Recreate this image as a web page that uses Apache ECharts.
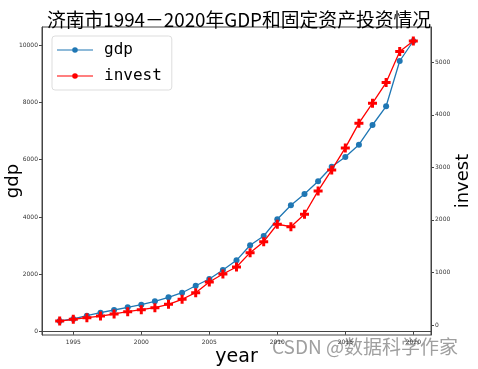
<!DOCTYPE html>
<html><head><meta charset="utf-8">
<script src="https://cdn.jsdelivr.net/npm/echarts@6/dist/echarts.min.js"></script>
<style>html,body{margin:0;padding:0;background:#fff}#c{width:478px;height:369px}</style>
</head><body><div id="c"></div>
<script>
var years = [1994,1995,1996,1997,1998,1999,2000,2001,2002,2003,2004,2005,2006,2007,2008,2009,2010,2011,2012,2013,2014,2015,2016,2017,2018,2019,2020];
var gdp = [373,443,558,663,757,851,942,1060,1200,1360,1604,1838,2152,2490,3014,3338,3920,4409,4803,5246,5755,6093,6523,7210,7862,9442,10140];
var invest = [76,109,139,171,210,253,291,330,394,490,615,819,971,1105,1377,1587,1918,1872,2109,2552,2952,3371,3842,4223,4615,5206,5406];
var xTicks = [1995,2000,2005,2010,2015,2020];
var gdpTicks = [0,2000,4000,6000,8000,10000];
var investTicks = [0,1000,2000,3000,4000,5000];

var chart = echarts.init(document.getElementById('c'), null, {renderer:'canvas'});
var axisCol = '#444';
function plain(v){ return String(Math.round(v)); }
var tickLbl = {fontSize:6, color:'#333', fontFamily:'DejaVu Sans', formatter:plain};
var plusPath = 'path://M1,0 L2,0 L2,1 L3,1 L3,2 L2,2 L2,3 L1,3 L1,2 L0,2 L0,1 L1,1 Z';
var legendIcon = 'path://M0,2.2 L36,2.2 L36,3.4 L0,3.4 Z M15.2,2.8 A2.8,2.8 0 1,1 20.8,2.8 A2.8,2.8 0 1,1 15.2,2.8 Z';
chart.setOption({
  animation:false,
  title:{text:'济南市1994－2020年GDP和固定资产投资情况', left:'center', top:5,
    textStyle:{fontSize:18.8, fontWeight:'normal', color:'#000', fontFamily:'Noto Sans CJK SC'}},
  legend:{orient:'vertical', left:52, top:36, itemWidth:36, itemHeight:5.6, itemGap:10,
    padding:[6,10,6,5], borderColor:'#ddd', borderWidth:1, borderRadius:3, backgroundColor:'rgba(255,255,255,0.85)',
    textStyle:{fontSize:16, color:'#000', fontFamily:'DejaVu Sans Mono', padding:[0,0,0,6]},
    data:[{name:'gdp', icon:legendIcon},{name:'invest', icon:legendIcon}]},
  grid:{left:42, right:47, top:27, bottom:34, containLabel:false, outerBoundsMode:'none',
    show:true, borderColor:axisCol, borderWidth:1},
  xAxis:{type:'value', min:1992.7, max:2021.3, splitLine:{show:false},
    name:'year', nameLocation:'middle', nameGap:13, nameMoveOverlap:false,
    nameTextStyle:{fontSize:19, color:'#000', fontFamily:'DejaVu Sans'},
    axisLine:{show:true, lineStyle:{color:axisCol}},
    axisTick:{show:true, length:3, customValues:xTicks, lineStyle:{color:axisCol}},
    axisLabel:Object.assign({customValues:xTicks, margin:4}, tickLbl)},
  yAxis:[
    {type:'value', position:'left', min:-115, max:10628, splitLine:{show:false},
     name:'gdp', nameLocation:'middle', nameGap:20, nameMoveOverlap:false,
     nameTextStyle:{fontSize:18, color:'#000', fontFamily:'DejaVu Sans'},
     axisLine:{show:true, lineStyle:{color:axisCol}},
     axisTick:{show:true, length:3, customValues:gdpTicks, lineStyle:{color:axisCol}},
     axisLabel:Object.assign({customValues:gdpTicks, margin:4}, tickLbl)},
    {type:'value', position:'right', min:-190, max:5672, splitLine:{show:false},
     name:'invest', nameLocation:'middle', nameGap:23, nameMoveOverlap:false,
     nameTextStyle:{fontSize:18, color:'#000', fontFamily:'DejaVu Sans'},
     axisLine:{show:true, lineStyle:{color:axisCol}},
     axisTick:{show:true, length:3, customValues:investTicks, lineStyle:{color:axisCol}},
     axisLabel:Object.assign({customValues:investTicks, margin:4}, tickLbl)}
  ],
  series:[
    {name:'gdp', type:'line', yAxisIndex:0, data:years.map(function(y,i){return [y,gdp[i]];}),
     symbol:'circle', symbolSize:6, showSymbol:true, color:'#1f77b4',
     lineStyle:{width:1.3, color:'#1f77b4'}, itemStyle:{color:'#1f77b4'}, z:2},
    {name:'invest', type:'line', yAxisIndex:1, data:years.map(function(y,i){return [y,invest[i]];}),
     symbol:plusPath, symbolSize:9, showSymbol:true, color:'#ff0000',
     lineStyle:{width:1.3, color:'#ff0000'}, itemStyle:{color:'#ff0000'}, z:3}
  ],
  graphic:[{type:'text', left:272, top:337,
    style:{text:'CSDN @数据科学作家', fontSize:19, fill:'rgba(135,135,135,0.8)', fontFamily:'Noto Sans CJK SC'}}]
});
</script></body></html>
